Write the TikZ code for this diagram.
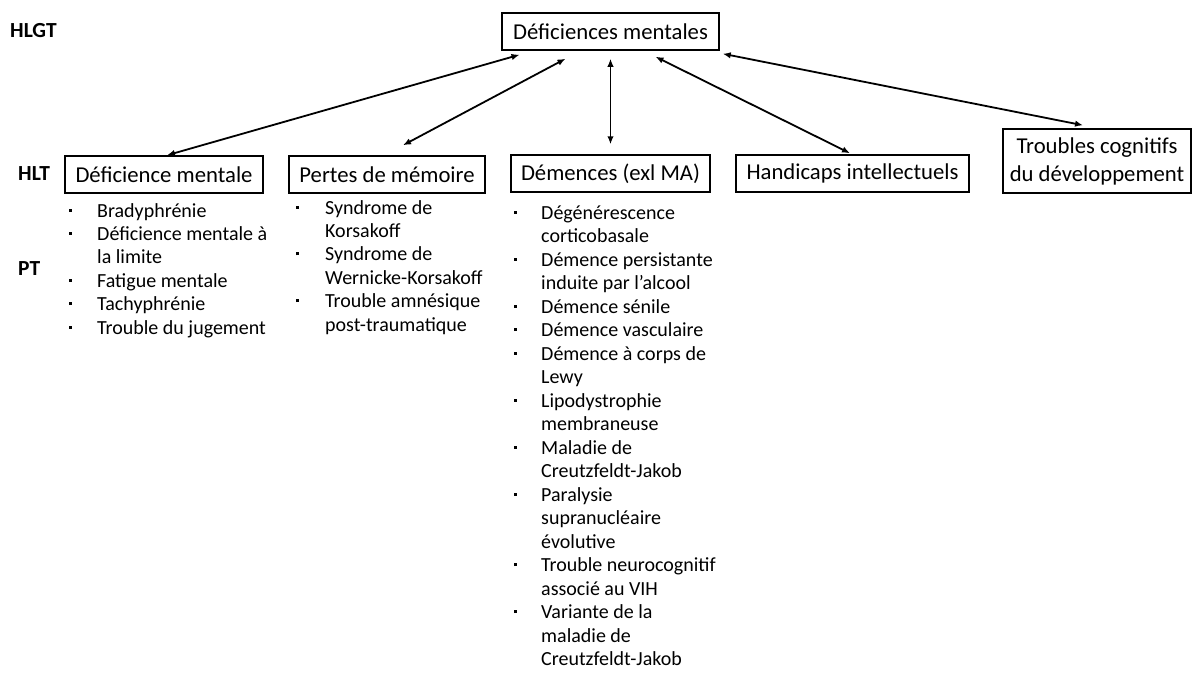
\documentclass[tikz,border=0pt]{standalone}
\usepackage{fontspec}
\setmainfont{Carlito}
\usetikzlibrary{arrows.meta}
\newcommand\bul{\rule[5.5pt]{3pt}{3pt}}
\tikzset{
  box/.style={draw, line width=1.5pt, inner sep=0pt, minimum height=37pt, align=center, font=\fontsize{22.7}{28}\selectfont},
  lvl/.style={anchor=west, font=\bfseries\fontsize{21.5}{24}\selectfont, inner sep=0pt},
  lst/.style={anchor=base west, inner sep=0pt, font=\fontsize{20}{23.4}\selectfont},
  arr/.style={line width=1.8pt, {Latex[length=8pt,width=6.5pt]}-{Latex[length=8pt,width=6.5pt]}}
}
\begin{document}
\begin{tikzpicture}[x=1pt,y=-1pt]
\useasboundingbox (0,0) rectangle (1193,677);
% level labels
\node[lvl] (hlgt) at (10,31) {HLGT};
\node[lvl] (hlt) at (18,174) {HLT};
\node[lvl] (pt) at (18,269) {PT};
% boxes
\node[box, minimum width=217pt] (top) at (610.5,31.5) {Déficiences mentales};
\node[box, minimum width=198pt] (b1) at (164,174.5) {Déficience mentale};
\node[box, minimum width=196pt] (b2) at (387,174.5) {Pertes de mémoire};
\node[box, minimum width=199pt] (b3) at (610.5,173.5) {Démences (exl MA)};
\node[box, minimum width=233pt] (b4) at (852.5,173.5) {Handicaps intellectuels};
\node[box, minimum width=188pt, minimum height=64pt] (b5) at (1097,161) {Troubles cognitifs\\du développement};
% arrows
\draw[arr] ([xshift=-91pt,yshift=-4pt]top.south) -- ([xshift=3pt]b1.north);
\draw[arr] ([xshift=-45pt,yshift=-8pt]top.south) -- ([xshift=16pt,yshift=10pt]b2.north);
\draw[arr] ([yshift=-8pt]top.south) -- ([yshift=10pt]b3.north);
\draw[arr] ([xshift=45pt,yshift=-6pt]top.south) -- ([xshift=-2.5pt,yshift=1pt]b4.north);
\draw[arr] ([xshift=3pt,yshift=-3pt]top.south east) -- ([xshift=-14pt,yshift=3pt]b5.north);
% lists
\node[lst] (l1) at (69,217) {\begin{tabular}[t]{@{}p{28pt}@{}l@{}}
\bul & Bradyphrénie\\
\bul & Déficience mentale à\\
 & la limite\\
\bul & Fatigue mentale\\
\bul & Tachyphrénie\\
\bul & Trouble du jugement
\end{tabular}};
\node[lst] (l2) at (296,214) {\begin{tabular}[t]{@{}p{29pt}@{}l@{}}
\bul & Syndrome de\\
 & Korsakoff\\
\bul & Syndrome de\\
 & Wernicke-Korsakoff\\
\bul & Trouble amnésique\\
 & post-traumatique
\end{tabular}};
\node[lst, font=\fontsize{20}{23.5}\selectfont] (l3) at (514,219) {\begin{tabular}[t]{@{}p{27pt}@{}l@{}}
\bul & Dégénérescence\\
 & corticobasale\\
\bul & Démence persistante\\
 & induite par l’alcool\\
\bul & Démence sénile\\
\bul & Démence vasculaire\\
\bul & Démence à corps de\\
 & Lewy\\
\bul & Lipodystrophie\\
 & membraneuse\\
\bul & Maladie de\\
 & Creutzfeldt-Jakob\\
\bul & Paralysie\\
 & supranucléaire\\
 & évolutive\\
\bul & Trouble neurocognitif\\
 & associé au VIH\\
\bul & Variante de la\\
 & maladie de\\
 & Creutzfeldt-Jakob
\end{tabular}};
\end{tikzpicture}
\end{document}
